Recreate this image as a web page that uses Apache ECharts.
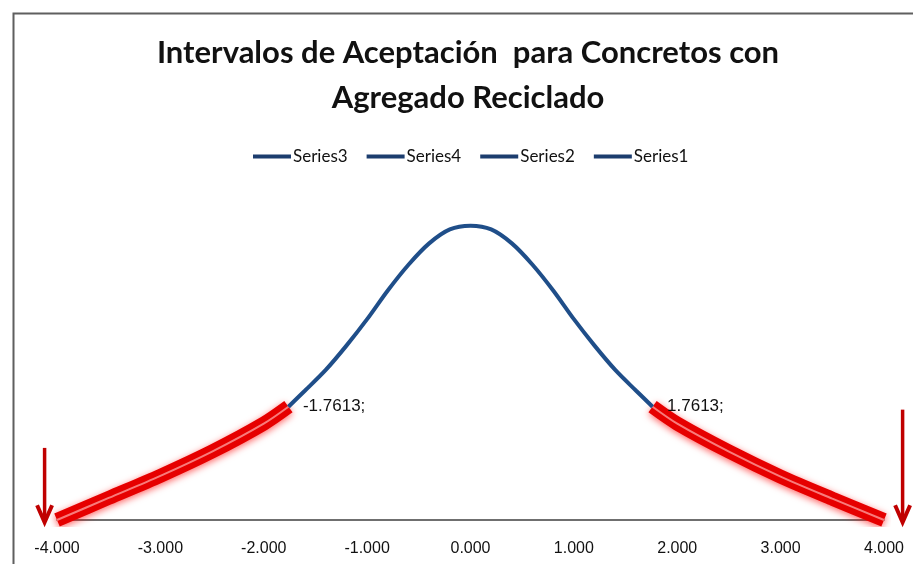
<!DOCTYPE html>
<html>
<head>
<meta charset="utf-8">
<script src="https://cdn.jsdelivr.net/npm/echarts@6/dist/echarts.min.js"></script>
<style>html,body{margin:0;padding:0;background:#fff}#c{width:913px;height:564px}</style>
</head>
<body>
<div id="c"></div>
<script>
// ---- data ----
const xTicks = [-4, -3, -2, -1, 0, 1, 2, 3, 4];
const xTailLeft = [-4, -3.5, -3, -2.5, -2, -1.7613];
const yTailLeft = [0, 0.030, 0.060, 0.093, 0.131, 0.154];
const xCenter = [-1.7613, -1.6, -1.4, -1.2, -1.0, -0.8, -0.6, -0.4, -0.2, 0, 0.2, 0.4, 0.6, 0.8, 1.0, 1.2, 1.4, 1.6, 1.7613];
const yCenter = [0.154, 0.176, 0.204, 0.237, 0.273, 0.312, 0.347, 0.376, 0.395, 0.400, 0.395, 0.376, 0.347, 0.312, 0.273, 0.237, 0.204, 0.176, 0.154];
const xTailRight = [1.7613, 2, 2.5, 3, 3.5, 4];
const yTailRight = [0.154, 0.131, 0.093, 0.059, 0.029, 0];
const arrowX = [-4.12, 4.18];
const arrowTop = [0.098, 0.150];
const arrowBottom = [-0.003, -0.003];
const legendNames = ['Series3', 'Series4', 'Series2', 'Series1'];
const titleText = 'Intervalos de Aceptación  para Concretos con\nAgregado Reciclado';

const pairs = (xs, ys) => xs.map((x, i) => [x, ys[i]]);
const BLUE = '#1f4e89';
const RED = '#e60000';
const ARROW = '#c00000';
const FONT = 'Liberation Sans';
const CFONT = 'Lato';

const redTail = (name, xs, ys) => ({
  name, type: 'line', data: pairs(xs, ys), smooth: 0.3, symbol: 'none', z: 3,
  lineStyle: { color: RED, width: 14, cap: 'butt', shadowColor: 'rgba(255,0,0,0.6)', shadowBlur: 7, shadowOffsetY: 2 }
});
const stripe = (name, xs, ys) => ({
  name, type: 'line', data: pairs(xs, ys), smooth: 0.3, symbol: 'none', z: 4, silent: true,
  lineStyle: { color: 'rgba(255,175,175,0.7)', width: 2 }
});

const centerData = xCenter.map((x, i) => ({
  value: [x, yCenter[i]],
  label: { show: i === 0 || i === xCenter.length - 1 }
}));

const chart = echarts.init(document.getElementById('c'));
chart.setOption({
  animation: false,
  backgroundColor: '#fff',
  title: {
    text: titleText, left: 463, top: 25, textAlign: 'center',
    textStyle: { fontFamily: CFONT, fontWeight: 'bold', fontSize: 31, lineHeight: 45, color: '#111' }
  },
  legend: {
    data: legendNames.map(n => ({ name: n, itemStyle: { color: '#1c3d6e' }, lineStyle: { color: '#1c3d6e', width: 4 } })),
    top: 143, left: 248,
    itemWidth: 38, itemHeight: 10, itemGap: 19, icon: 'path://M0,3L38,3L38,7L0,7Z',
    textStyle: { fontFamily: CFONT, fontSize: 17, color: '#111', padding: [0, 0, 0, -3] }
  },
  graphic: [{
    type: 'rect', left: 11, top: 11, z: 0,
    shape: { width: 1000, height: 1000 },
    style: { fill: 'none', stroke: '#5f5f5f', lineWidth: 2 }
  }],
  grid: { left: 57, right: 29, top: 211, bottom: 44, containLabel: false },
  xAxis: {
    type: 'value', min: -4, max: 4, interval: 1,
    axisLine: { show: true, onZero: false, lineStyle: { color: '#404040', width: 1.5 } },
    axisTick: { show: false },
    splitLine: { show: false },
    axisLabel: { margin: 21, fontFamily: FONT, fontSize: 16, color: '#111', formatter: v => v.toFixed(3) }
  },
  yAxis: { type: 'value', min: 0, max: 0.42, show: false, splitLine: { show: false } },
  series: [
    redTail('Series3', xTailLeft, yTailLeft),
    redTail('Series4', xTailRight, yTailRight),
    stripe('s3hl', xTailLeft, yTailLeft),
    stripe('s4hl', xTailRight, yTailRight),
    {
      name: 'Series2', type: 'line', data: centerData, smooth: 0.3, z: 5,
      symbol: 'circle', symbolSize: 1, showSymbol: true,
      itemStyle: { color: 'rgba(0,0,0,0)' },
      lineStyle: { color: BLUE, width: 4 },
      label: { position: 'right', distance: 14, fontFamily: FONT, fontSize: 17, color: '#111', formatter: p => p.value[0].toFixed(4) + ';' }
    },
    {
      name: 'Series1', type: 'custom', clip: false, silent: true, z: 6,
      data: arrowX.map((x, i) => [x, arrowTop[i], arrowBottom[i]]),
      encode: { x: 0, y: [1, 2] },
      renderItem: (params, api) => {
        const top = api.coord([api.value(0), api.value(1)]);
        const tip = api.coord([api.value(0), api.value(2)]);
        return {
          type: 'group',
          children: [
            { type: 'line', shape: { x1: top[0], y1: top[1], x2: tip[0], y2: tip[1] - 2 },
              style: { stroke: ARROW, lineWidth: 3.5 } },
            { type: 'polyline', shape: { points: [[tip[0] - 7.5, tip[1] - 17], [tip[0], tip[1]], [tip[0] + 7.5, tip[1] - 17]] },
              style: { stroke: ARROW, lineWidth: 4, fill: 'none', lineJoin: 'miter' } }
          ]
        };
      }
    }
  ]
});
</script>
</body>
</html>
